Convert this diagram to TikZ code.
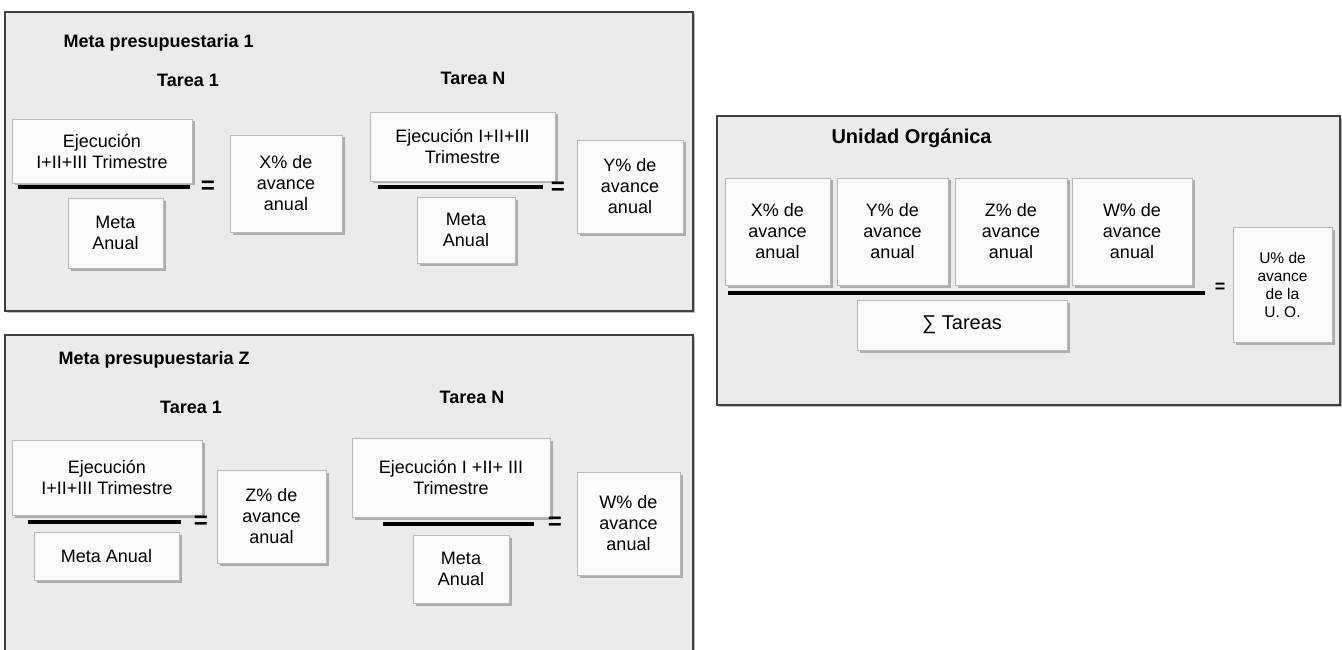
\documentclass[tikz,border=0pt]{standalone}
\usepackage{fontspec}
\setmainfont{Liberation Sans}
\usepackage{tikz}
\usetikzlibrary{shadows}

\begin{document}
\begin{tikzpicture}[x=1pt, y=-1pt,
    % Box styles
    panel/.style={draw=black!75, line width=1.1pt, fill=gray!16,
                  drop shadow={shadow xshift=2pt, shadow yshift=-2pt, fill=gray!55, opacity=1}},
    caja/.style={draw=gray!55, line width=0.6pt, fill=gray!3, align=center, inner sep=0pt,
                 font=\fontsize{18}{21}\selectfont,
                 drop shadow={shadow xshift=2.5pt, shadow yshift=-2.5pt, fill=gray!65, opacity=1}},
    cajachica/.style={caja, font=\fontsize{15.5}{18}\selectfont},
    titulo/.style={font=\bfseries\fontsize{18}{21}\selectfont},
    igual/.style={font=\bfseries\fontsize{24}{24}\selectfont, inner sep=0pt},
    fraccion/.style={line width=3.5pt, color=black},
  ]
  \useasboundingbox (0,0) rectangle (1342,650);

  % ===== TOP LEFT: Meta presupuestaria 1 =====
  \node[panel, minimum width=688, minimum height=299] (p1) at (349,161.5) {};
  \node[titulo, anchor=west] (titulo1) at (60,43) {Meta presupuestaria 1};
  \node[titulo] (tarea1a) at (188,80) {Tarea 1};
  \node[titulo] (tareaNa) at (473,78) {Tarea N};

  % Tarea 1
  \node[caja, minimum width=180, minimum height=64] (ejec1a) at (102,151)
    {Ejecución\\I+II+III Trimestre};
  \node[caja, minimum width=95, minimum height=70] (meta1a) at (115.5,233) {Meta\\Anual};
  \node[igual] (eq1a) at (208,187) {=};
  \node[caja, minimum width=112, minimum height=97] (pctX1) at (286,183.5)
    {X\% de\\avance\\anual};
  \coordinate (l1a) at (18,187);
  \coordinate (r1a) at (190,187);
  \draw[fraccion] (l1a) -- (r1a);

  % Tarea N
  \node[caja, minimum width=185, minimum height=69] (ejecNa) at (462.5,146.5)
    {Ejecución I+II+III\\Trimestre};
  \node[caja, minimum width=98, minimum height=66] (metaNa) at (466,230) {Meta\\Anual};
  \node[igual] (eqNa) at (558,188) {=};
  \node[caja, minimum width=106, minimum height=93] (pctY1) at (630,186.5)
    {Y\% de\\avance\\anual};
  \coordinate (lNa) at (378,187);
  \coordinate (rNa) at (543,187);
  \draw[fraccion] (lNa) -- (rNa);

  % ===== BOTTOM LEFT: Meta presupuestaria Z =====
  \node[panel, minimum width=688, minimum height=321] (p2) at (349,495.5) {};
  \node[titulo, anchor=west] (titulo2) at (55,360) {Meta presupuestaria Z};
  \node[titulo] (tarea1b) at (191,407) {Tarea 1};
  \node[titulo] (tareaNb) at (472,397) {Tarea N};

  % Tarea 1
  \node[caja, minimum width=190, minimum height=75] (ejec1b) at (107,477.5)
    {Ejecución\\I+II+III Trimestre};
  \node[caja, minimum width=145, minimum height=48] (meta1b) at (106.5,556) {Meta Anual};
  \node[igual] (eq1b) at (201,522) {=};
  \node[caja, minimum width=109, minimum height=93] (pctZ2) at (271.5,516.5)
    {Z\% de\\avance\\anual};
  \coordinate (l1b) at (28,522);
  \coordinate (r1b) at (181,522);
  \draw[fraccion] (l1b) -- (r1b);

  % Tarea N
  \node[caja, minimum width=198, minimum height=79] (ejecNb) at (451,477.5)
    {Ejecución I +II+ III\\Trimestre};
  \node[caja, minimum width=96, minimum height=68] (metaNb) at (461,569) {Meta\\Anual};
  \node[igual] (eqNb) at (555,523) {=};
  \node[caja, minimum width=103, minimum height=103] (pctW2) at (628.5,523.5)
    {W\% de\\avance\\anual};
  \coordinate (lNb) at (383,524);
  \coordinate (rNb) at (534,524);
  \draw[fraccion] (lNb) -- (rNb);

  % ===== RIGHT: Unidad Organica =====
  \node[panel, minimum width=623, minimum height=289] (p3) at (1028.5,260.5) {};
  \node[titulo, font=\bfseries\fontsize{20}{24}\selectfont, anchor=west] (titulo3) at (828,138)
    {Unidad Orgánica};

  \node[caja, minimum width=105, minimum height=107] (pctX3) at (777.5,231.5) {X\% de\\avance\\anual};
  \node[caja, minimum width=111, minimum height=107] (pctY3) at (892.5,231.5) {Y\% de\\avance\\anual};
  \node[caja, minimum width=112, minimum height=107] (pctZ3) at (1011,231.5) {Z\% de\\avance\\anual};
  \node[caja, minimum width=120, minimum height=107] (pctW3) at (1132,231.5) {W\% de\\avance\\anual};
  \coordinate (l3) at (728,293);
  \coordinate (r3) at (1205,293);
  \draw[fraccion] (l3) -- (r3);
  \node[caja, font=\fontsize{20}{24}\selectfont, minimum width=210, minimum height=50] (suma) at (962,325)
    {∑ Tareas};
  \node[igual, font=\bfseries\fontsize{18}{18}\selectfont] (eq3) at (1220,288) {=};
  \node[cajachica, minimum width=99, minimum height=115] (pctU) at (1282.5,284.5)
    {U\% de\\avance\\de la\\U. O.};

\end{tikzpicture}
\end{document}
